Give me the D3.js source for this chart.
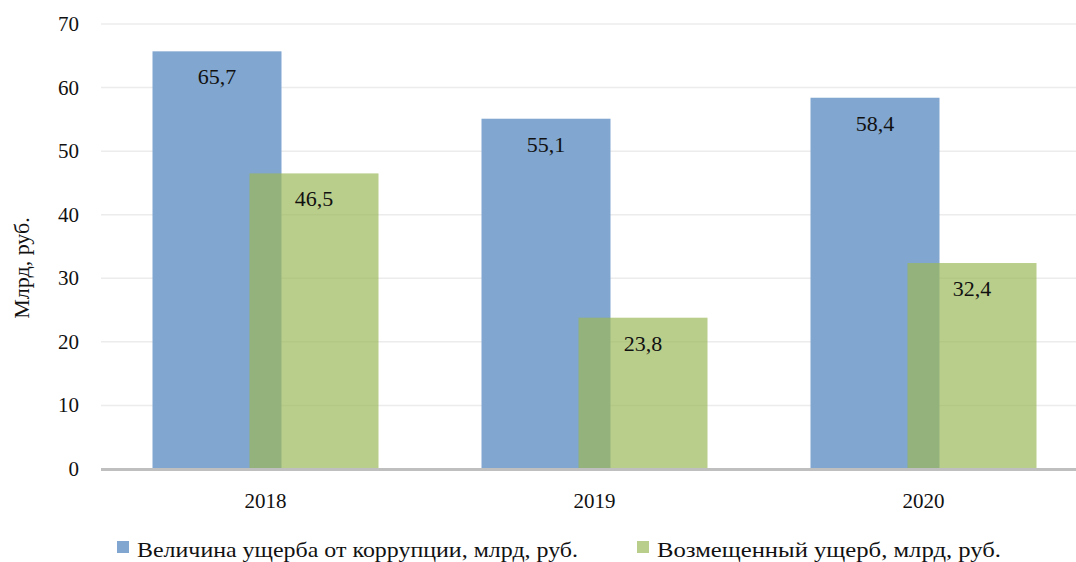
<!DOCTYPE html>
<html><head><meta charset="utf-8">
<script src="https://cdn.jsdelivr.net/npm/d3@7"></script>
<style>body{margin:0;background:#fff}svg{display:block}svg text{font-family:"Liberation Serif","DejaVu Serif",serif}</style>
</head><body>
<svg id="c" width="1076" height="562"></svg>
<script>
const categories = ["2018", "2019", "2020"];
const damage = [65.7, 55.1, 58.4];
const compensated = [46.5, 23.8, 32.4];
const seriesNames = ["Величина ущерба от коррупции, млрд, руб.", "Возмещенный ущерб, млрд, руб."];
const yTicks = [0, 10, 20, 30, 40, 50, 60, 70];
const yTitle = "Млрд, руб.";

const svg = d3.select("#c");
const y = d3.scaleLinear().domain([0, 70]).range([469, 24]);
const x = d3.scaleBand().domain(categories).range([101, 1088]).padding(0);
const barW = 129, off = 48.5;
const blue = "#81a6cf", green = "rgb(155,184,87)";

svg.append("g").selectAll("line").data(yTicks.filter(d => d > 0)).join("line")
  .attr("x1", 101).attr("x2", 1076).attr("y1", d => y(d)).attr("y2", d => y(d))
  .attr("stroke", "#ececec").attr("stroke-width", 1.5);

svg.append("g").selectAll("text").data(yTicks).join("text")
  .attr("x", 79).attr("y", d => y(d) + 7).attr("text-anchor", "end")
  .attr("font-size", 21).attr("fill", "#111").text(d => d);

const cx = c => x(c) + x.bandwidth() / 2;
svg.append("g").selectAll("rect").data(categories).join("rect")
  .attr("x", (c) => cx(c) - off - barW / 2).attr("width", barW)
  .attr("y", (c, i) => y(damage[i])).attr("height", (c, i) => y(0) - y(damage[i]))
  .attr("fill", blue);
svg.append("g").selectAll("rect").data(categories).join("rect")
  .attr("x", (c) => cx(c) + off - barW / 2).attr("width", barW)
  .attr("y", (c, i) => y(compensated[i])).attr("height", (c, i) => y(0) - y(compensated[i]))
  .attr("fill", green).attr("fill-opacity", 0.69);

const fmt = v => v.toFixed(1).replace(".", ",");
svg.append("g").selectAll("text").data(categories).join("text")
  .attr("x", c => cx(c) - off).attr("y", (c, i) => y(damage[i]) + 33)
  .attr("text-anchor", "middle").attr("font-size", 22).attr("fill", "#111")
  .text((c, i) => fmt(damage[i]));
svg.append("g").selectAll("text").data(categories).join("text")
  .attr("x", c => cx(c) + off).attr("y", (c, i) => y(compensated[i]) + 33)
  .attr("text-anchor", "middle").attr("font-size", 22).attr("fill", "#111")
  .text((c, i) => fmt(compensated[i]));

svg.append("line").attr("x1", 101).attr("x2", 1076).attr("y1", y(0) + 0.5).attr("y2", y(0) + 0.5)
  .attr("stroke", "#bfbfbf").attr("stroke-width", 3);

svg.append("g").selectAll("text").data(categories).join("text")
  .attr("x", c => cx(c)).attr("y", 508).attr("text-anchor", "middle")
  .attr("font-size", 21).attr("fill", "#111").text(c => c);

svg.append("text").attr("transform", "translate(29,268) rotate(-90)")
  .attr("text-anchor", "middle").attr("font-size", 22).attr("fill", "#111")
  .text(yTitle);

const legend = [
  {name: seriesNames[0], color: blue, op: 1, x: 117, len: 441},
  {name: seriesNames[1], color: green, op: 0.69, x: 637, len: 344}
];
const lg = svg.append("g").selectAll("g").data(legend).join("g");
lg.append("rect").attr("x", d => d.x).attr("y", 541).attr("width", 12).attr("height", 12)
  .attr("fill", d => d.color).attr("fill-opacity", d => d.op);
lg.append("text").attr("x", d => d.x + 20).attr("y", 557)
  .attr("font-size", 22).attr("fill", "#111")
  .attr("textLength", d => d.len).attr("lengthAdjust", "spacingAndGlyphs")
  .text(d => d.name);
</script>
</body></html>
